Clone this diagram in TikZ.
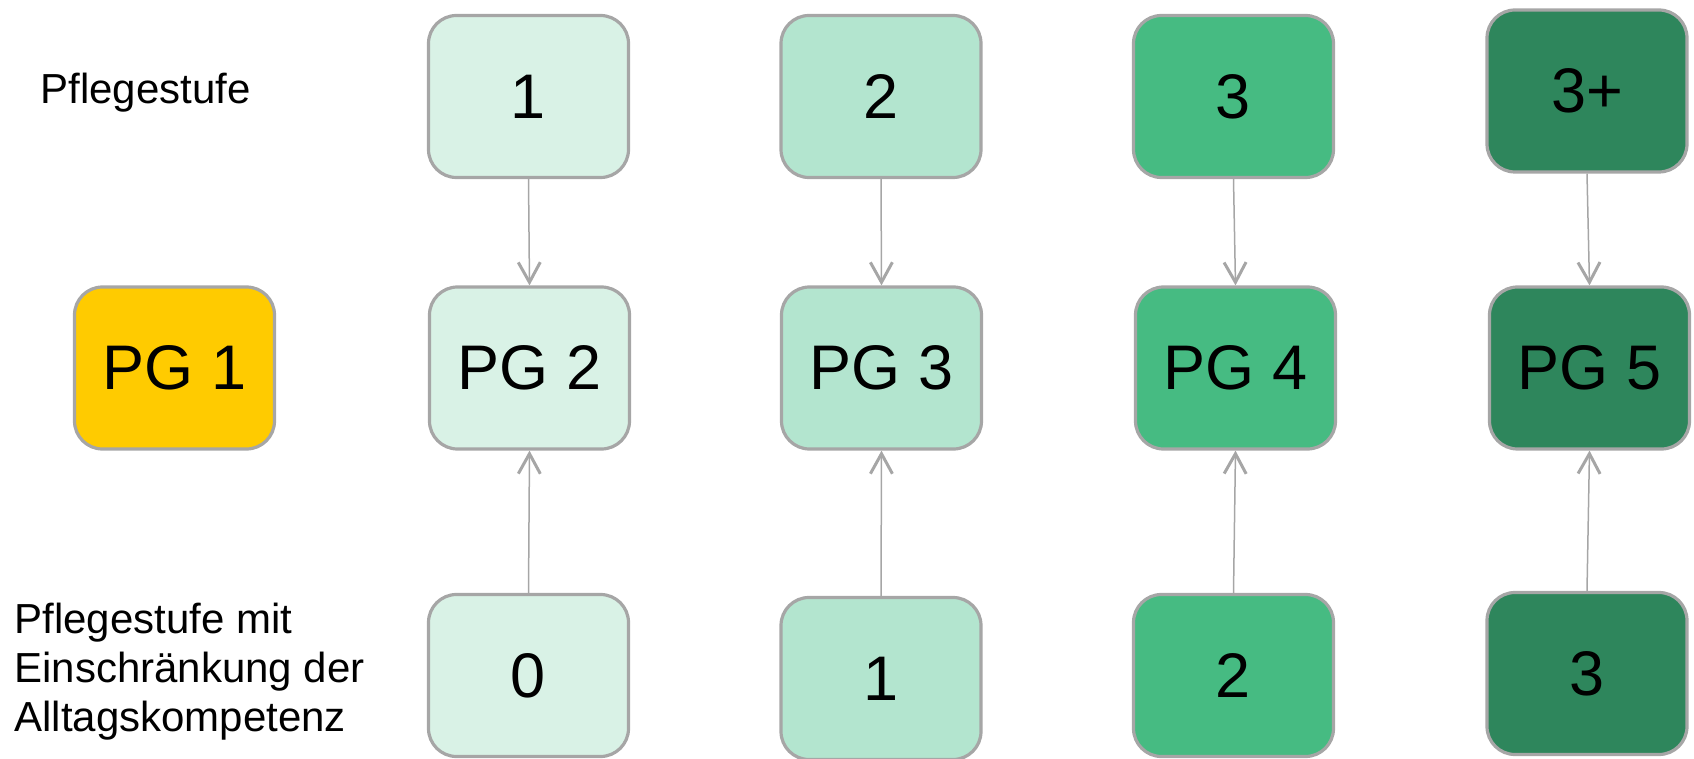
\documentclass[tikz,border=0pt]{standalone}
\usepackage{fontspec}
\setmainfont{Liberation Sans}
\usetikzlibrary{arrows.meta}
\definecolor{c1}{HTML}{D9F2E6}
\definecolor{c2}{HTML}{B3E5CF}
\definecolor{c3}{HTML}{46BB82}
\definecolor{c4}{HTML}{2E865C}
\definecolor{cy}{HTML}{FFCB00}
\definecolor{bd}{HTML}{A6A6A6}
\begin{document}
\begin{tikzpicture}[x=0.5pt,y=-0.5pt,
  box/.style={draw=bd, line width=1.6pt, rounded corners=14pt, minimum width=100pt, minimum height=81pt, inner sep=0pt, font=\fontsize{31.5}{36}\selectfont, text=black},
  conn/.style={draw=bd, line width=0.75pt, -{Straight Barb[length=10pt,width=11pt,line width=1.5pt]}},
  lab/.style={font=\fontsize{21}{24.5}\selectfont, inner sep=0pt, align=left}]
\useasboundingbox (0,0) rectangle (1694,759);
% labels
\node[lab, anchor=base west] (l1) at (40,104) {Pflegestufe};
\node[lab, anchor=base west] (l2) at (14,731) {Pflegestufe mit\\Einschränkung der\\Alltagskompetenz};
% top row
\node[box, fill=c1] (t1) at (528.5,96.5) {1};
\node[box, fill=c2] (t2) at (881,96.5) {2};
\node[box, fill=c3] (t3) at (1233.5,96.5) {3};
\node[box, fill=c4] (t4) at (1587,91) {3+};
% middle row
\node[box, fill=cy] (p1) at (174.5,368) {PG 1};
\node[box, fill=c1] (p2) at (529.5,368) {PG 2};
\node[box, fill=c2] (p3) at (881.5,368) {PG 3};
\node[box, fill=c3] (p4) at (1235.5,368) {PG 4};
\node[box, fill=c4] (p5) at (1589.5,368) {PG 5};
% bottom row
\node[box, fill=c1] (b1) at (528.5,675.5) {0};
\node[box, fill=c2] (b2) at (881,678.5) {1};
\node[box, fill=c3] (b3) at (1233.5,675.5) {2};
\node[box, fill=c4] (b4) at (1587,673.5) {3};
% connectors
\draw[conn] (t1.south) -- (p2.north);
\draw[conn] (t2.south) -- (p3.north);
\draw[conn] (t3.south) -- (p4.north);
\draw[conn] (t4.south) -- (p5.north);
\draw[conn] (b1.north) -- (p2.south);
\draw[conn] (b2.north) -- (p3.south);
\draw[conn] (b3.north) -- (p4.south);
\draw[conn] (b4.north) -- (p5.south);
\end{tikzpicture}
\end{document}
